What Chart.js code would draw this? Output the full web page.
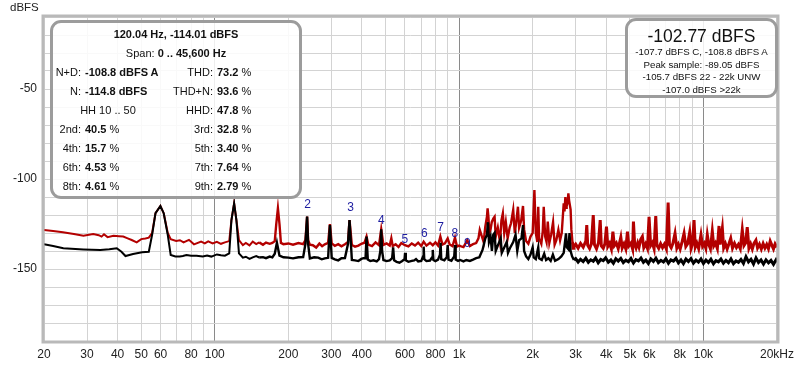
<!DOCTYPE html>
<html>
<head>
<meta charset="utf-8">
<script src="https://cdn.jsdelivr.net/npm/chart.js@4.4.1/dist/chart.umd.min.js"></script>
<style>
html,body{margin:0;padding:0;background:#fff;}
#wrap{position:relative;width:800px;height:365px;font-family:"Liberation Sans",Arial,sans-serif;color:#111;}
#c{position:absolute;left:0;top:0;}
#unit{position:absolute;left:10px;top:0;font-size:11.5px;line-height:14px;color:#222;}
.box{position:absolute;background:rgba(255,255,255,0.86);border:3px solid #9c9c9c;border-radius:11px;box-sizing:border-box;}
#stats{left:50px;top:20px;width:252px;height:179px;padding-top:1.5px;font-size:11px;}
#stats .r{position:relative;height:19px;line-height:19px;}
#stats .c{text-align:center;}
#stats span{position:absolute;top:0;white-space:nowrap;}
.l1{left:0;width:28px;text-align:right;}
.v1{left:32px;}
.l2{left:100px;width:60px;text-align:right;}
.v2{left:164px;}
.hh{left:0;width:110px;text-align:center;}
#level{left:625px;top:18px;width:153px;height:80px;padding-top:5px;text-align:center;}
#level .t{font-size:17.5px;line-height:20px;}
#level .s{font-size:9.7px;line-height:12.5px;white-space:nowrap;}
</style>
</head>
<body>
<div id="wrap">
  <canvas id="c" width="800" height="365"></canvas>
  <div id="unit">dBFS</div>
  <div class="box" id="stats">
    <div class="r c"><b>120.04 Hz, -114.01 dBFS</b></div>
    <div class="r c">Span: <b>0 .. 45,600 Hz</b></div>
    <div class="r"><span class="l1">N+D:</span><span class="v1"><b>-108.8 dBFS A</b></span><span class="l2">THD:</span><span class="v2"><b>73.2</b> %</span></div>
    <div class="r"><span class="l1">N:</span><span class="v1"><b>-114.8 dBFS</b></span><span class="l2">THD+N:</span><span class="v2"><b>93.6</b> %</span></div>
    <div class="r"><span class="hh">HH 10 .. 50</span><span class="l2">HHD:</span><span class="v2"><b>47.8</b> %</span></div>
    <div class="r"><span class="l1">2nd:</span><span class="v1"><b>40.5</b> %</span><span class="l2">3rd:</span><span class="v2"><b>32.8</b> %</span></div>
    <div class="r"><span class="l1">4th:</span><span class="v1"><b>15.7</b> %</span><span class="l2">5th:</span><span class="v2"><b>3.40</b> %</span></div>
    <div class="r"><span class="l1">6th:</span><span class="v1"><b>4.53</b> %</span><span class="l2">7th:</span><span class="v2"><b>7.64</b> %</span></div>
    <div class="r"><span class="l1">8th:</span><span class="v1"><b>4.61</b> %</span><span class="l2">9th:</span><span class="v2"><b>2.79</b> %</span></div>
  </div>
  <div class="box" id="level">
    <div class="t">-102.77 dBFS</div>
    <div class="s">-107.7 dBFS C, -108.8 dBFS A</div>
    <div class="s">Peak sample: -89.05 dBFS</div>
    <div class="s">-105.7 dBFS 22 - 22k UNW</div>
    <div class="s">-107.0 dBFS &gt;22k</div>
  </div>
</div>
<script>
// spectrum traces: [Hz, dBFS]
const blackTrace = [
  [20,-136.3],[21.8,-137.2],[24,-138.5],[29,-139.1],[34,-139.4],[37,-139],[39.7,-138.5],[41.5,-140.4],[43.1,-142.8],[46.3,-141.7],
  [50.4,-140.7],[53.7,-140.4],[55.4,-131],[57.2,-119],[59.9,-115],[61.8,-119],[64.2,-131],[66,-142.2],[69,-143],[71.9,-143.1],
  [74,-142.8],[76.6,-142.2],[80,-142.6],[84.2,-142.6],[89.3,-143.1],[93,-142.5],[96.8,-143.1],[102,-141.9],[106,-142.4],[110,-142.6],
  [114.6,-141.3],[117,-122.8],[120,-113.5],[122.6,-122.8],[125.6,-141.3],[130.3,-143.7],[134,-143.2],[138.7,-144.4],[143,-143.5],[147.8,-142.8],
  [152,-143.6],[157.5,-143.4],[162,-144],[167.8,-143.1],[172,-143.5],[176,-141.5],[179.6,-135.4],[184,-142.6],[191,-143.5],[200,-143.7],
  [209,-144.1],[220,-143.5],[230,-143.4],[235,-136],[238.7,-120.9],[241,-136],[245,-144.1],[255,-143.5],[265,-143.7],[274,-144.6],
  [282,-144.1],[291,-143.8],[296,-125.6],[301,-143.8],[310,-144.6],[320,-145.2],[330,-144],[341,-143.9],[351,-136],[356,-122.8],
  [364,-145],[375,-145.2],[387,-145.6],[398,-144.4],[406,-144],[414,-144],[418,-132],[423,-144.8],[433,-145.6],[446,-145.2],
  [460,-145.8],[470,-144.5],[476,-140],[480,-128],[484,-140],[490,-145],[505,-145.6],[520,-145.2],[532,-144],[537,-138],
  [542,-145.2],[555,-146],[570,-146.5],[585,-145.5],[598,-144.5],[601,-141],[605,-145.2],[620,-146],[640,-145.5],[655,-145.2],
  [666,-144.5],[680,-145.8],[700,-145.5],[712,-143],[716,-137.6],[720,-144.5],[735,-145.6],[760,-145.3],[776,-143.5],[780,-139.4],
  [785,-145],[800,-145.6],[820,-144.8],[835,-142],[840,-135.4],[845,-144.5],[870,-145.2],[890,-143.5],[898,-136.7],[905,-144.8],
  [930,-145.4],[955,-143],[962,-136.7],[968,-144.8],[990,-145.5],[1010,-145],[1042,-145.8],[1070,-145],[1107,-145.5],[1140,-144.8],
  [1174,-144],[1210,-143.5],[1247,-139.4],[1280,-133],[1300,-131],[1312,-124],[1325,-135],[1345,-132],[1362,-140],[1380,-131],
  [1397,-130],[1412,-140],[1440,-137],[1480,-133],[1495,-141],[1530,-138],[1566,-135],[1585,-141],[1620,-138],[1665,-135],
  [1702,-131],[1730,-140],[1760,-134],[1800,-133],[1826,-125.6],[1845,-140],[1880,-143],[1920,-144.5],[1960,-142],[2000,-138],
  [2020,-143.5],[2060,-144.5],[2108,-138],[2125,-144],[2180,-145],[2230,-141.5],[2270,-145],[2320,-144],[2370,-145.5],[2420,-142],
  [2470,-145.5],[2550,-144.5],[2620,-143],[2680,-141],[2738,-130.2],[2760,-138],[2800,-139],[2830,-130],[2860,-140],[2900,-143],
  [2950,-145],[3000,-144.2],[3070,-146.1],[3140,-144.6],[3220,-145.9],[3300,-144],[3380,-146.3],[3460,-144.9],[3540,-145.7],[3620,-143.9],
  [3710,-146.5],[3800,-144.7],[3890,-145.4],[3980,-143.8],[4080,-146.2],[4180,-145],[4280,-146.8],[4380,-144.3],[4480,-145.6],[4590,-144.1],
  [4700,-146.4],[4810,-145.1],[4930,-146],[5050,-144.2],[5170,-146.7],[5290,-144.8],[5420,-145.5],[5550,-143.9],[5680,-146.3],[5810,-145],
  [5950,-146.9],[6090,-144.4],[6240,-145.8],[6390,-144],[6540,-146.5],[6700,-145.2],[6860,-146.1],[7020,-144.3],[7190,-146.8],[7360,-144.9],
  [7540,-145.6],[7720,-144.1],[7900,-146.6],[8090,-145],[8280,-147],[8480,-144.5],[8680,-145.9],[8890,-144.2],[9100,-146.7],[9320,-145.1],
  [9540,-146.2],[9770,-144.4],[10000,-146.9],[10240,-145],[10480,-146.4],[10730,-144.6],[10990,-147.1],[11250,-145.3],[11520,-146],[11790,-144.5],
  [12070,-146.8],[12360,-145.2],[12660,-146.5],[12960,-144.4],[13270,-147],[13590,-145.5],[13910,-146.3],[14240,-144.7],[14580,-146.9],[14930,-143.2],
  [15290,-146.1],[15650,-144.6],[16030,-147.2],[16410,-143.9],[16800,-146.4],[17200,-145],[17610,-147.3],[18030,-144.9],[18460,-146.6],[18900,-145.2],
  [19350,-147.4],[19800,-145],[20000,-146.3]
];
const redTrace = [
  [20,-128.3],[21.8,-128.9],[23.9,-129.6],[26.5,-130.6],[29,-131.5],[31.8,-130.6],[33.5,-131.2],[34.4,-132],[35.2,-130.7],[36.4,-132.3],
  [38.5,-131.5],[40.5,-131.8],[42.2,-132],[44,-133],[45.7,-133.9],[47.9,-135.2],[50,-133.4],[52,-133],[53.7,-132.6],[55.4,-130],
  [57.2,-119],[59.9,-115],[61.8,-119],[64.2,-130],[66,-133.4],[69.5,-134.4],[72,-134],[74.5,-135.2],[78.4,-133.8],[82.2,-136.3],
  [87.9,-134.8],[91,-135.8],[94,-134.6],[98,-135.8],[102,-134.9],[106,-136],[110,-135.2],[114.6,-134.5],[117,-122.8],[120,-113.5],
  [122.6,-122.8],[125.6,-134],[130.3,-136.7],[134,-135.5],[138.7,-136.9],[143,-134.8],[147.8,-136.2],[152,-135.2],[157.5,-136.5],[162,-135.3],
  [167.8,-136],[172,-135.5],[176,-134.5],[178.5,-125],[181.3,-116.3],[184,-125],[186.5,-135.5],[191,-136.2],[200,-135.8],[209,-136.5],
  [220,-135.6],[230,-136.2],[235,-134],[238.7,-120.9],[241,-134],[245,-136.5],[252,-136.8],[260,-138.1],[268,-135.9],[275,-137.3],
  [282,-136.3],[291,-135.5],[296,-125],[301,-135.8],[310,-137.1],[320,-136.2],[330,-137.4],[341,-136.2],[351,-135],[356,-122.8],
  [364,-136.7],[375,-137.6],[387,-137],[398,-136],[410,-135.4],[418,-132],[425,-136.5],[440,-137.3],[455,-135.2],[470,-136.8],
  [480,-128],[490,-136.6],[505,-135.8],[520,-137],[528,-133],[535,-137.3],[550,-136.3],[565,-137.8],[580,-135.6],[600,-136.8],
  [620,-137.5],[640,-135.8],[660,-137],[680,-135.4],[700,-137.2],[716,-134.8],[735,-137],[760,-135.4],[780,-136.8],[800,-135.2],
  [820,-137],[838,-132],[855,-136.4],[875,-135.8],[898,-133],[915,-136.4],[940,-137.3],[962,-132.6],[980,-137.5],[1000,-137],
  [1020,-137.4],[1042,-137.8],[1080,-134],[1107,-137.2],[1140,-136.2],[1174,-135.6],[1200,-133],[1215,-128.3],[1240,-132],[1260,-135],
  [1280,-126.5],[1300,-121],[1308,-116.3],[1318,-121],[1330,-130],[1345,-128],[1360,-124],[1380,-122],[1397,-121],[1412,-132],
  [1440,-127],[1470,-135],[1490,-123],[1510,-119.1],[1530,-130],[1553,-124],[1580,-133],[1610,-127],[1631,-124.6],[1665,-117.2],
  [1690,-130],[1720,-122],[1741,-115.4],[1760,-127],[1795,-123],[1826,-115],[1845,-128],[1880,-134.5],[1920,-136],[1960,-132],
  [2000,-130],[2033,-106.1],[2060,-130],[2090,-135],[2108,-115.4],[2125,-133],[2170,-136],[2200,-129],[2220,-115.4],[2250,-132],
  [2280,-135],[2306,-123.7],[2340,-135.5],[2380,-131],[2424,-124],[2460,-136.5],[2500,-134],[2548,-128.3],[2590,-134],[2630,-130],
  [2680,-113.5],[2700,-118],[2722,-110],[2740,-116],[2755,-115],[2780,-113],[2800,-108],[2820,-112],[2860,-117],[2880,-128],
  [2910,-135],[2930,-138.5],[2950,-137.5],[3000,-136.2],[3070,-138.4],[3140,-135.8],[3220,-137.9],[3300,-134.5],[3330,-125.6],[3360,-136.8],
  [3420,-138.6],[3480,-135.9],[3540,-120],[3580,-136.5],[3650,-138.8],[3720,-135.4],[3780,-122.8],[3820,-137.2],[3890,-138.5],[3950,-136],
  [4010,-126.5],[4060,-137.5],[4130,-135.7],[4200,-138.9],[4260,-129.3],[4320,-137],[4400,-135.5],[4480,-138.6],[4590,-132.4],[4650,-138.3],
  [4730,-136],[4810,-138.8],[4887,-129.3],[4950,-137.2],[5050,-135.6],[5130,-138.9],[5170,-123.7],[5230,-136.3],[5300,-138.4],[5380,-135.5],
  [5450,-137.9],[5540,-133.5],[5623,-132],[5700,-138.2],[5800,-136],[5900,-138.6],[5990,-121],[6080,-137],[6180,-135.4],[6280,-138.7],
  [6380,-120.6],[6450,-136.8],[6560,-138.5],[6680,-135.9],[6800,-138.1],[6920,-136.2],[7050,-138.9],[7170,-113.1],[7260,-136.6],[7380,-138.2],
  [7500,-135.7],[7650,-130.2],[7780,-138.4],[7900,-136.3],[8030,-138.9],[8180,-134.8],[8330,-130.2],[8470,-137.5],[8620,-135.9],[8786,-129.6],
  [8900,-138.6],[9020,-136.1],[9152,-122.8],[9260,-137.8],[9400,-135.6],[9560,-138.7],[9770,-131],[9920,-137.4],[10080,-135.8],[10230,-138.5],
  [10370,-131],[10520,-136.5],[10680,-138.8],[10870,-129],[11020,-137.2],[11200,-135.5],[11400,-138.6],[11580,-126.1],[11700,-136.4],[11950,-127.4],
  [12100,-138.3],[12300,-135.9],[12500,-138.9],[12700,-136.2],[12930,-133],[13150,-138.4],[13400,-135.7],[13650,-138.1],[13900,-136.4],[14150,-138.8],
  [14420,-128.3],[14650,-137],[14880,-135.6],[15110,-126.7],[15350,-138.5],[15600,-136.1],[15850,-138.9],[16100,-135.8],[16400,-134],[16650,-138.3],
  [16950,-136.2],[17250,-138.9],[17550,-135.9],[17850,-138.4],[18150,-136.4],[18450,-138.8],[18760,-134.5],[19050,-136.7],[19350,-138.9],[19650,-136.1],
  [20000,-137.9]
];

// axes
const xGrid = [20,30,40,50,60,70,80,90,100,200,300,400,500,600,700,800,900,1000,2000,3000,4000,5000,6000,7000,8000,9000,10000,20000];
const xLabels = {20:'20',30:'30',40:'40',50:'50',60:'60',80:'80',100:'100',200:'200',300:'300',400:'400',600:'600',800:'800',
  1000:'1k',2000:'2k',3000:'3k',4000:'4k',5000:'5k',6000:'6k',8000:'8k',10000:'10k',20000:'20kHz'};
const xMajor = [100,1000,10000];
const yLabels = [-50,-100,-150];

// harmonic markers
const harmNames = ['2','3','4','5','6','7','8','9'];
const harmHz = [240,360,480,600,720,840,960,1080];
const harmDb = [-114.4,-116,-123.3,-133.9,-130.6,-127.2,-130.6,-136.1];

const FONT = '"Liberation Sans", Arial, sans-serif';

// noisy parts of the spectrum look like a thicker band
const bandWidth = ctx => {
  const f = ctx.p0.parsed.x;
  return f > 2900 ? 3 : f > 150 ? 2.4 : 2;
};

const extras = {
  id:'extras',
  afterDatasetsDraw(chart){
    const {ctx, scales:{x,y}} = chart;
    ctx.save();
    // cursor tick at the fundamental
    ctx.strokeStyle = '#9a9ac8';
    ctx.lineWidth = 1;
    ctx.beginPath();
    const cx = Math.round(x.getPixelForValue(120)) + 0.5;
    ctx.moveTo(cx, y.getPixelForValue(-106.5));
    ctx.lineTo(cx, y.getPixelForValue(-111));
    ctx.stroke();
    ctx.font = '12px ' + FONT;
    ctx.fillStyle = '#1c1ca0';
    ctx.textAlign = 'center';
    ctx.textBaseline = 'middle';
    harmNames.forEach((t,i)=>{
      ctx.fillText(t, x.getPixelForValue(harmHz[i]), y.getPixelForValue(harmDb[i]));
    });
    ctx.restore();
  },
  afterDraw(chart){
    const {ctx, chartArea:a} = chart;
    ctx.save();
    ctx.strokeStyle = '#b9b9b9';
    ctx.lineWidth = 3;
    ctx.strokeRect(a.left-1, a.top-1, a.right-a.left+2, a.bottom-a.top+2);
    ctx.restore();
  }
};

new Chart(document.getElementById('c'),{
  type:'line',
  data:{datasets:[
    {label:'Left', data:blackTrace.map(p=>({x:p[0],y:p[1]})), borderColor:'#000', borderWidth:2, pointRadius:0, tension:0,
      segment:{borderWidth:bandWidth}},
    {label:'Right', data:redTrace.map(p=>({x:p[0],y:p[1]})), borderColor:'#b30000', borderWidth:2, pointRadius:0, tension:0,
      segment:{borderWidth:bandWidth}}
  ]},
  options:{
    responsive:false, animation:false, events:[],
    layout:{padding:{top:17,right:22,left:0,bottom:0}},
    plugins:{legend:{display:false},tooltip:{enabled:false}},
    scales:{
      x:{type:'logarithmic', min:20, max:20000,
        afterBuildTicks:s=>{ s.ticks = xGrid.map(v=>({value:v})); },
        afterFit:s=>{ s.height = 24; },
        grid:{drawTicks:false, color:c=>xMajor.includes(c.tick && c.tick.value) ? '#8a8a8a' : '#d3d3d3'},
        border:{display:false},
        ticks:{autoSkip:false, maxRotation:0, padding:6, color:'#222', font:{family:FONT,size:12},
          callback:v=>xLabels[v] || ''}
      },
      y:{type:'linear', min:-190, max:-10,
        afterFit:s=>{ s.width = 44; },
        grid:{drawTicks:false, color:'#d3d3d3'},
        border:{display:false},
        ticks:{stepSize:10, padding:7, color:'#222', font:{family:FONT,size:12},
          callback:v=>yLabels.includes(v) ? String(v) : ''}
      }
    }
  },
  plugins:[extras]
});
</script>
</body>
</html>
